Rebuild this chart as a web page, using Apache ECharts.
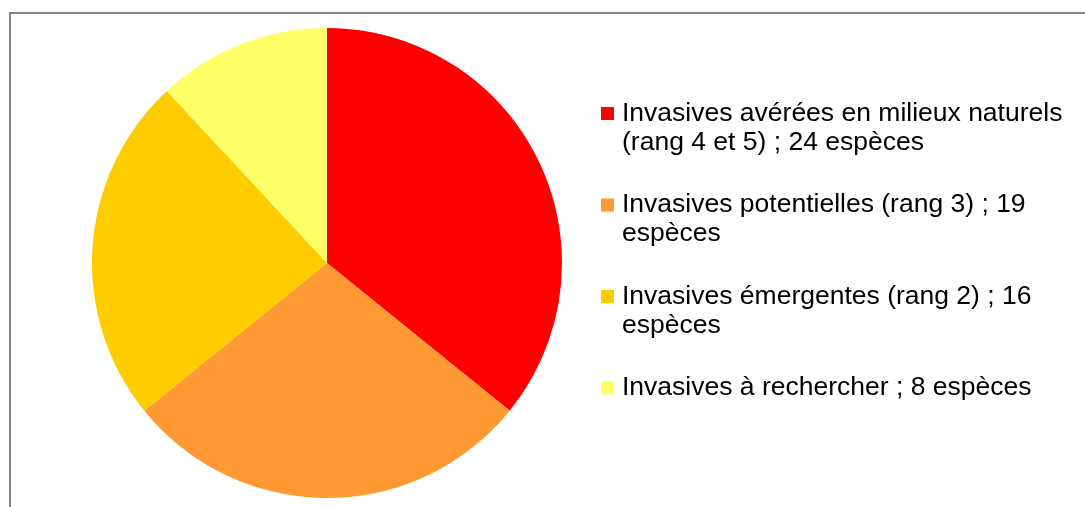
<!DOCTYPE html>
<html>
<head>
<meta charset="utf-8">
<script src="https://cdn.jsdelivr.net/npm/echarts@6/dist/echarts.min.js"></script>
<style>
html, body { margin: 0; padding: 0; background: #fff; }
#pieChart { width: 1085px; height: 507px; }
</style>
</head>
<body>
<div id="pieChart"></div>
<script>
// catégories (libellés de la légende, coupés comme dans l'original)
var categories = [
    'Invasives avérées en milieux naturels\n(rang 4 et 5) ; 24 espèces',
    'Invasives potentielles (rang 3) ; 19\nespèces',
    'Invasives émergentes (rang 2) ; 16\nespèces',
    'Invasives à rechercher ; 8 espèces'
];
// nombre d'espèces
var especes = [24, 19, 16, 8];
var couleurs = ['#FF0000', '#FF9933', '#FFCC00', '#FFFF66'];

var chart = echarts.init(document.getElementById('pieChart'));

var option = {
    animation: false,
    color: couleurs,
    graphic: [{
        type: 'rect',
        shape: { x: 10, y: 13, width: 1200, height: 600 },
        style: { fill: 'none', stroke: '#868686', lineWidth: 2 },
        silent: true
    }],
    legend: {
        orient: 'vertical',
        left: 601,
        top: 70,
        padding: 0,
        itemWidth: 13,
        itemHeight: 13,
        itemGap: 4.5,
        icon: 'rect',
        selectedMode: false,
        // ligne vide ajoutée pour aligner la 1re ligne du texte sur le carré
        formatter: function (name) {
            return name.indexOf('\n') !== -1 ? '\n' + name : '\n' + name + '\n';
        },
        textStyle: {
            color: '#000',
            fontFamily: 'Liberation Sans, Arial, sans-serif',
            fontSize: 26.5,
            lineHeight: 29,
            padding: [0, 0, 0, 3]
        }
    },
    series: [{
        type: 'pie',
        center: [327, 263],
        radius: 235,
        startAngle: 90,
        clockwise: true,
        silent: true,
        label: { show: false },
        labelLine: { show: false },
        itemStyle: { borderWidth: 0 },
        data: categories.map(function (name, i) {
            return { name: name, value: especes[i] };
        })
    }]
};

chart.setOption(option);
</script>
</body>
</html>
